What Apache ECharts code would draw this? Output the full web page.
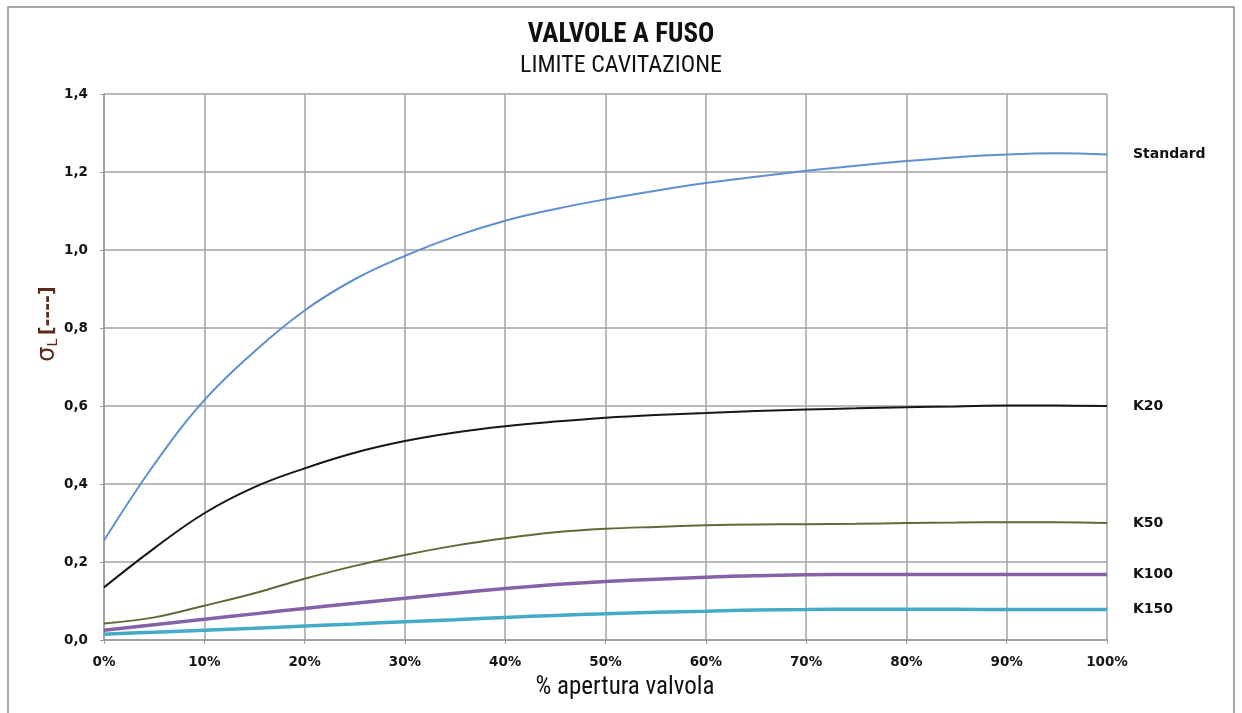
<!DOCTYPE html>
<html>
<head>
<meta charset="utf-8">
<script src="https://cdn.jsdelivr.net/npm/echarts@6/dist/echarts.min.js"></script>
<style>
html,body{margin:0;padding:0;background:#fff;}
#chart{width:1242px;height:713px;}
</style>
</head>
<body>
<div id="chart"></div>
<script>
const xs = [0,5,10,15,20,25,30,35,40,45,50,55,60,65,70,75,80,85,90,95,100];
const standard = [0.255,0.45,0.615,0.74,0.845,0.925,0.985,1.035,1.075,1.105,1.13,1.152,1.172,1.188,1.203,1.216,1.228,1.238,1.245,1.248,1.245];
const k20 = [0.135,0.235,0.325,0.392,0.44,0.48,0.51,0.532,0.548,0.56,0.57,0.577,0.582,0.587,0.591,0.594,0.597,0.599,0.601,0.601,0.60];
const k50 = [0.042,0.058,0.088,0.12,0.157,0.19,0.218,0.242,0.261,0.276,0.285,0.29,0.294,0.296,0.297,0.298,0.30,0.301,0.302,0.302,0.30];
const k100 = [0.025,0.039,0.053,0.067,0.081,0.094,0.107,0.12,0.132,0.142,0.15,0.156,0.161,0.165,0.167,0.168,0.168,0.168,0.168,0.168,0.168];
const k150 = [0.015,0.02,0.025,0.03,0.036,0.041,0.047,0.052,0.058,0.063,0.067,0.071,0.074,0.077,0.078,0.079,0.079,0.079,0.078,0.078,0.078];
const seriesNames = ['Standard','K20','K50','K100','K150'];
const seriesValues = [standard,k20,k50,k100,k150];
const titleText = 'VALVOLE A FUSO';
const subtitleText = 'LIMITE CAVITAZIONE';
const xAxisTitle = '% apertura valvola';

const colors = ['#5e8fd0','#161616','#5d6b36','#8462a8','#45aac8'];
const widths = [2,2,2,3.5,3.5];
const narrow = "'Liberation Sans Narrow','Roboto Condensed','Arial Narrow',sans-serif";
const bold = "'DejaVu Sans',Verdana,sans-serif";

const chart = echarts.init(document.getElementById('chart'));
chart.setOption({
  animation:false,
  backgroundColor:'#fff',
  grid:{left:104,right:135,top:94,bottom:73,containLabel:false},
  xAxis:{
    type:'value',min:0,max:100,interval:10,
    axisLine:{show:true,lineStyle:{color:'#9a9a9a',width:1.5}},
    axisTick:{show:true,length:4,lineStyle:{color:'#9a9a9a'}},
    splitLine:{show:true,lineStyle:{color:'#a3a3a3',width:1.5}},
    axisLabel:{formatter:'{value}%',fontFamily:bold,fontWeight:'bold',fontSize:13.5,color:'#151515',margin:15,letterSpacing:-0.5}
  },
  yAxis:{
    type:'value',min:0,max:1.4,interval:0.2,
    axisLine:{show:true,lineStyle:{color:'#9a9a9a',width:1.5}},
    axisTick:{show:true,length:4,lineStyle:{color:'#9a9a9a'}},
    splitLine:{show:true,lineStyle:{color:'#a3a3a3',width:1.5}},
    axisLabel:{formatter:v=>v.toFixed(1).replace('.',','),fontFamily:bold,fontWeight:'bold',fontSize:13.5,color:'#151515',margin:16,letterSpacing:-0.5}
  },
  series:seriesNames.map((n,i)=>({
    name:n,type:'line',smooth:0.4,symbol:'none',
    data:xs.map((x,j)=>[x,seriesValues[i][j]]),
    lineStyle:{color:colors[i],width:widths[i]},
    endLabel:{show:true,formatter:n,distance:26,fontFamily:bold,fontWeight:'bold',fontSize:14,color:'#111',letterSpacing:-1}
  })),
  graphic:[
    {type:'rect',shape:{x:8,y:7,width:1226,height:730},style:{fill:'none',stroke:'#8a8a8a',lineWidth:1.5},silent:true},
    {type:'text',left:'center',top:22,style:{text:titleText,font:"bold 27px "+narrow,fill:'#111'}},
    {type:'text',left:'center',top:54,style:{text:subtitleText,font:"24px "+narrow,fill:'#111'}},
    {type:'text',x:625,y:688,style:{text:xAxisTitle,font:"25px "+narrow,fill:'#111',align:'center',verticalAlign:'middle'}},
    {type:'text',x:48,y:324,rotation:Math.PI/2,style:{
      rich:{s:{fontSize:24,fontFamily:"'DejaVu Sans',sans-serif",fill:'#5a2a1a'},sub:{fontSize:14,fontFamily:"'DejaVu Sans',sans-serif",fill:'#5a2a1a',padding:[10,0,0,0]},b:{fontSize:19,fontFamily:"'DejaVu Sans',sans-serif",fill:'#5a2a1a',fontWeight:'bold'}},
      text:'{s|σ}{sub|L} {b|[----]}',align:'center',verticalAlign:'middle'}}
  ]
});
</script>
</body>
</html>
